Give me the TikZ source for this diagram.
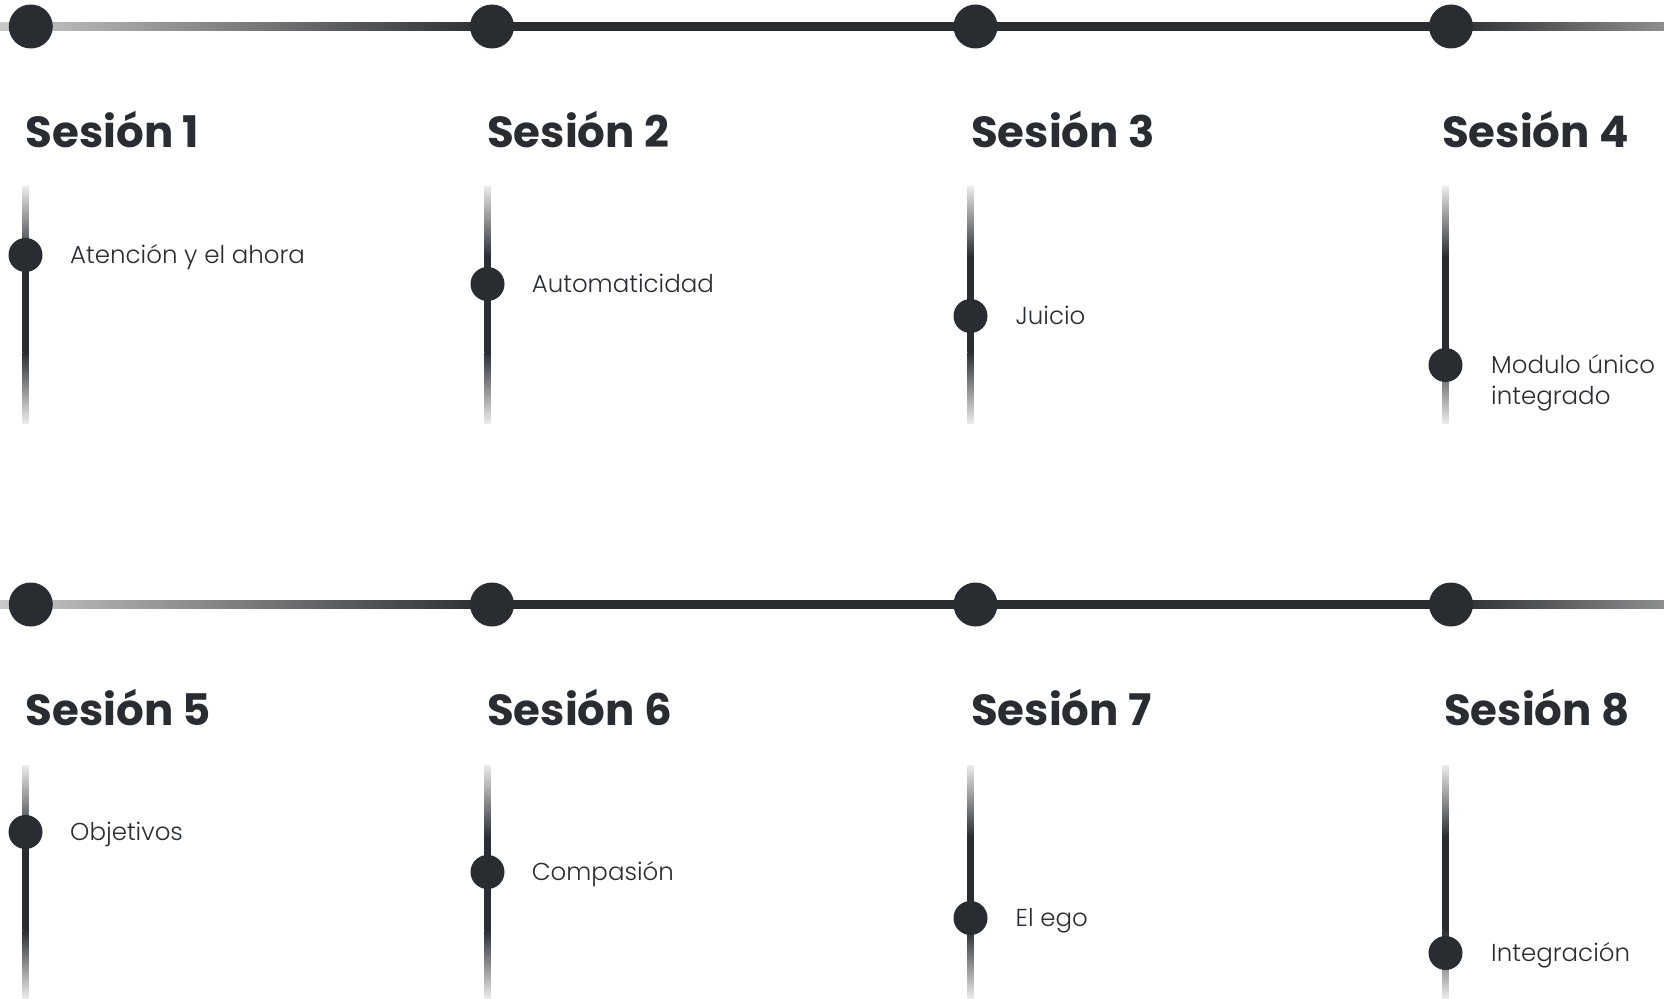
\documentclass[tikz,border=0pt]{standalone}
\usepackage{fontspec}
\usetikzlibrary{calc}
\newfontfamily\headfont{Poppins}
\newfontfamily\labfont{Poppins Light}
\definecolor{ink}{HTML}{292D31}
\definecolor{fadeL}{HTML}{C9C9C9}
\definecolor{fadeR}{HTML}{8E8E8E}
\definecolor{vfade}{HTML}{EBEBEB}
\tikzset{
  bigdot/.style={circle, fill=ink, minimum size=44pt, inner sep=0pt},
  smalldot/.style={circle, fill=ink, minimum size=34pt, inner sep=0pt},
  head/.style={anchor=base west, inner sep=0pt, text=ink, font=\headfont\bfseries\fontsize{43.5}{50}\selectfont},
  lab/.style={anchor=base west, inner sep=0pt, text=ink, align=left, font=\labfont\fontsize{24.5}{31}\selectfont},
}
% vertical bar: #1 x, #2 top y, #3 dark start, #4 dark end, #5 bottom y, #6 bottom color
\newcommand{\vbar}[6]{%
  \shade[top color=vfade, bottom color=ink] (#1-3.25,#2) rectangle (#1+3.25,#3);
  \fill[ink] (#1-3.25,#3) rectangle (#1+3.25,#4);
  \shade[top color=ink, bottom color=#6] (#1-3.25,#4) rectangle (#1+3.25,#5);
}
\begin{document}
\begin{tikzpicture}[x=1pt,y=-1pt]
\useasboundingbox[fill=white] (0,0) rectangle (1664,998);

% ---------- row 1 ----------
\coordinate (L1) at (0,26.5);
\coordinate (R1) at (1664,26.5);
\coordinate (t1) at (30.8,26.5);
\coordinate (t2) at (492,26.5);
\coordinate (t3) at (975.5,26.5);
\coordinate (t4) at (1451,26.5);
\shade[left color=fadeL, right color=ink] ($(L1)+(0,-4.3)$) rectangle ($(t2)+(0,4.3)$);
\fill[ink] ($(t2)+(0,-4.3)$) rectangle ($(t4)+(0,4.3)$);
\shade[left color=ink, right color=fadeR] ($(t4)+(0,-4.3)$) rectangle ($(R1)+(0,4.3)$);
\node[bigdot] (d1) at (t1) {};
\node[bigdot] (d2) at (t2) {};
\node[bigdot] (d3) at (t3) {};
\node[bigdot] (d4) at (t4) {};

\node[head] (h1) at (25.5,147.5) {Sesión 1};
\node[head] (h2) at (487,147.5) {Sesión 2};
\node[head] (h3) at (971,147.5) {Sesión 3};
\node[head] (h4) at (1442,147.5) {Sesión 4};

\vbar{25.5}{186}{257}{352}{423}{vfade}
\vbar{487.5}{186}{257}{352}{423}{vfade}
\vbar{970.5}{186}{257}{352}{423}{vfade}
\vbar{1445.5}{186}{257}{352}{423}{vfade}

\node[smalldot] (s1) at (25.5,255) {};
\node[smalldot] (s2) at (487.5,284) {};
\node[smalldot] (s3) at (970.5,316) {};
\node[smalldot] (s4) at (1445.5,365) {};

\node[lab] (a1) at (70,263) {Atención y el ahora};
\node[lab] (a2) at (531.6,292) {Automaticidad};
\node[lab] (a3) at (1015.5,324) {Juicio};
\node[lab] (a4) at (1491,404) {Modulo único\\integrado};

% ---------- row 2 ----------
\coordinate (L2) at (0,604.5);
\coordinate (R2) at (1664,604.5);
\coordinate (u1) at (30.8,604.5);
\coordinate (u2) at (492,604.5);
\coordinate (u3) at (975.5,604.5);
\coordinate (u4) at (1451,604.5);
\shade[left color=fadeL, right color=ink] ($(L2)+(0,-4.3)$) rectangle ($(u2)+(0,4.3)$);
\fill[ink] ($(u2)+(0,-4.3)$) rectangle ($(u4)+(0,4.3)$);
\shade[left color=ink, right color=fadeR] ($(u4)+(0,-4.3)$) rectangle ($(R2)+(0,4.3)$);
\node[bigdot] (d5) at (u1) {};
\node[bigdot] (d6) at (u2) {};
\node[bigdot] (d7) at (u3) {};
\node[bigdot] (d8) at (u4) {};

\node[head] (h5) at (25.5,725) {Sesión 5};
\node[head] (h6) at (487,725) {Sesión 6};
\node[head] (h7) at (971,725) {Sesión 7};
\node[head] (h8) at (1444,725) {Sesión 8};

\vbar{25.5}{765}{837}{930}{998}{vfade}
\vbar{487.5}{765}{837}{930}{998}{vfade}
\vbar{970.5}{765}{837}{930}{998}{vfade}
\vbar{1445.5}{765}{837}{930}{998}{vfade}

\node[smalldot] (s5) at (25.5,832) {};
\node[smalldot] (s6) at (487.5,872) {};
\node[smalldot] (s7) at (970.5,918) {};
\node[smalldot] (s8) at (1445.5,953) {};

\node[lab] (a5) at (70,840) {Objetivos};
\node[lab] (a6) at (531.6,880) {Compasión};
\node[lab] (a7) at (1015.5,926) {El ego};
\node[lab] (a8) at (1491,961) {Integración};
\end{tikzpicture}
\end{document}
